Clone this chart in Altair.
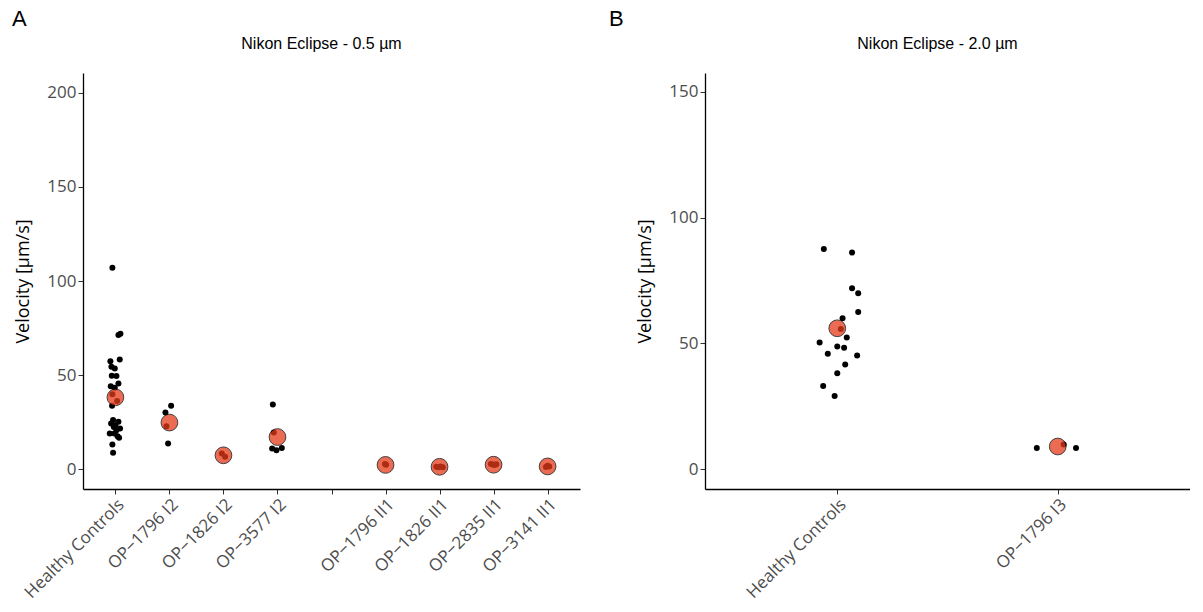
import json
import altair as alt
import pandas as pd

# ---------------- data ----------------
cats_a = ["Healthy Controls", "OP−1796 I2", "OP−1826 I2", "OP−3577 I2", "",
          "OP−1796 II1", "OP−1826 II1", "OP−2835 II1", "OP−3141 II1"]
cats_b = ["Healthy Controls", "OP−1796 I3"]

# panel A: velocity values per group and horizontal jitter (in category units)
a_hc_v = [107.1, 71.3, 72.0, 58.3, 57.4, 54.4, 53.5, 49.6, 49.5, 45.6, 44.1, 43.3,
          39.9, 36.2, 33.7, 26.1, 25.2, 24.3, 23.4, 21.6, 19.0, 19.0, 16.7, 13.1,
          8.7, 20.7, 22.5, 17.5]
a_hc_j = [-0.056, 0.056, 0.093, 0.080, -0.093, -0.074, -0.012, -0.068, 0.019, 0.056,
          -0.086, -0.012, -0.056, 0.031, -0.062, -0.043, 0.056, -0.080, 0.0, 0.086,
          -0.105, -0.019, 0.068, -0.056, -0.043, 0.019, -0.030, 0.040]
a_1796i2_v = [33.7, 30.1, 22.9, 13.7]
a_1796i2_j = [0.031, -0.074, -0.056, -0.025]
a_1826i2_v = [8.3, 6.6]
a_1826i2_j = [-0.031, 0.031]
a_3577i2_v = [34.4, 19.5, 11.0, 10.1, 11.3]
a_3577i2_j = [-0.086, -0.068, -0.099, -0.019, 0.080]
a_1796ii1_v = [2.8, 2.4]
a_1796ii1_j = [-0.010, 0.010]
a_1826ii1_v = [1.3, 1.0, 1.4, 1.1]
a_1826ii1_j = [-0.060, -0.020, 0.020, 0.060]
a_2835ii1_v = [2.8, 2.5, 2.2, 2.6]
a_2835ii1_j = [-0.050, -0.015, 0.020, 0.050]
a_3141ii1_v = [1.2, 1.8, 1.5]
a_3141ii1_j = [-0.030, 0.000, 0.030]
means_a = [38.2, 24.8, 7.4, 17.1, None, 2.3, 1.3, 2.4, 1.5]

# panel B
b_hc_v = [87.5, 86.1, 71.9, 69.9, 62.5, 60.0, 55.7, 52.3, 50.3, 48.8, 48.3, 45.9,
          45.2, 41.6, 38.1, 33.1, 29.1]
b_hc_j = [-0.061, 0.067, 0.067, 0.095, 0.095, 0.024, 0.016, 0.043, -0.080, 0.0,
          0.031, -0.043, 0.090, 0.036, 0.0, -0.064, -0.012]
b_1796i3_v = [8.4, 9.8, 8.4]
b_1796i3_j = [-0.095, 0.027, 0.083]
means_b = [56.0, 9.0]

a_groups = [(a_hc_v, a_hc_j), (a_1796i2_v, a_1796i2_j), (a_1826i2_v, a_1826i2_j),
            (a_3577i2_v, a_3577i2_j), None, (a_1796ii1_v, a_1796ii1_j),
            (a_1826ii1_v, a_1826ii1_j), (a_2835ii1_v, a_2835ii1_j),
            (a_3141ii1_v, a_3141ii1_j)]
b_groups = [(b_hc_v, b_hc_j), (b_1796i3_v, b_1796i3_j)]


def build(groups, means):
    pts, mns = [], []
    for i, g in enumerate(groups):
        if g is None:
            continue
        for v, j in zip(*g):
            pts.append({"pos": i + j, "v": v})
        mns.append({"pos": i, "v": means[i]})
    return pd.DataFrame(pts), pd.DataFrame(mns)


pts_a, mns_a = build(a_groups, means_a)
pts_b, mns_b = build(b_groups, means_b)

FILL = "#E53A1A"
LABEL_FONT = "Open Sans"


def panel(pts, mns, cats, ydom, yvals, title, letter, w, h, letter_dx):
    xscale = alt.Scale(domain=[-0.6, len(cats) - 0.4], nice=False, zero=False)
    yscale = alt.Scale(domain=ydom, nice=False, zero=False)
    xaxis = alt.Axis(values=list(range(len(cats))),
                     labelExpr=json.dumps(cats) + "[datum.value]",
                     labelAngle=-45, labelAlign="right", labelBaseline="top",
                     labelOverlap=False, labelBound=False, labelFlush=False,
                     title=None, grid=False, labelFont=LABEL_FONT, labelFontSize=17,
                     labelColor="#4D4D4D", tickColor="#333333", tickSize=5,
                     domainColor="#000000", domainWidth=1.3, labelPadding=2)
    yaxis = alt.Axis(values=yvals, title="Velocity [µm/s]", grid=False,
                     labelFont=LABEL_FONT, labelFontSize=17, labelColor="#4D4D4D",
                     tickColor="#333333", tickSize=5, domainColor="#000000",
                     domainWidth=1.3, labelPadding=2, titleFont=LABEL_FONT,
                     titleFontSize=18, titleFontWeight="normal", titleColor="#000000",
                     titlePadding=14, labelOverlap=False)
    dots = alt.Chart(pts).mark_circle(size=36, color="#000000", opacity=1).encode(
        x=alt.X("pos:Q", scale=xscale, axis=xaxis),
        y=alt.Y("v:Q", scale=yscale, axis=yaxis),
    )
    means = alt.Chart(mns).mark_circle(size=280, fill=FILL, stroke="#000000",
                                       strokeWidth=1, opacity=0.75).encode(
        x=alt.X("pos:Q", scale=xscale),
        y=alt.Y("v:Q", scale=yscale),
    )
    lab = alt.Chart(pd.DataFrame({"t": [letter]})).mark_text(
        font="Liberation Sans", fontSize=22, align="left", baseline="alphabetic",
        color="#000000").encode(
        text="t:N", x=alt.value(letter_dx), y=alt.value(-47))
    ttl = alt.Chart(pd.DataFrame({"t": [title]})).mark_text(
        font="Liberation Sans", fontSize=16, align="center", baseline="middle",
        color="#000000").encode(
        text="t:N", x=alt.value(w / 2 - 10), y=alt.value(-29))
    return alt.layer(dots, means, lab, ttl).properties(width=w, height=h)


pa = panel(pts_a, mns_a, cats_a, [-10.5, 210.5], [0, 50, 100, 150, 200],
           "Nikon Eclipse - 0.5 µm", "A", 497, 416, -71)
pb = panel(pts_b, mns_b, cats_b, [-7.9, 157.5], [0, 50, 100, 150],
           "Nikon Eclipse - 2.0 µm", "B", 485, 416, -96)

chart = alt.hconcat(pa, pb, spacing=29, background="#FFFFFF",
                    padding={"left": 4, "top": 0, "right": 0, "bottom": -2}
                    ).configure_view(strokeWidth=0, stroke="transparent")

chart.save("out.html", embed_options={"renderer": "svg", "actions": False})
